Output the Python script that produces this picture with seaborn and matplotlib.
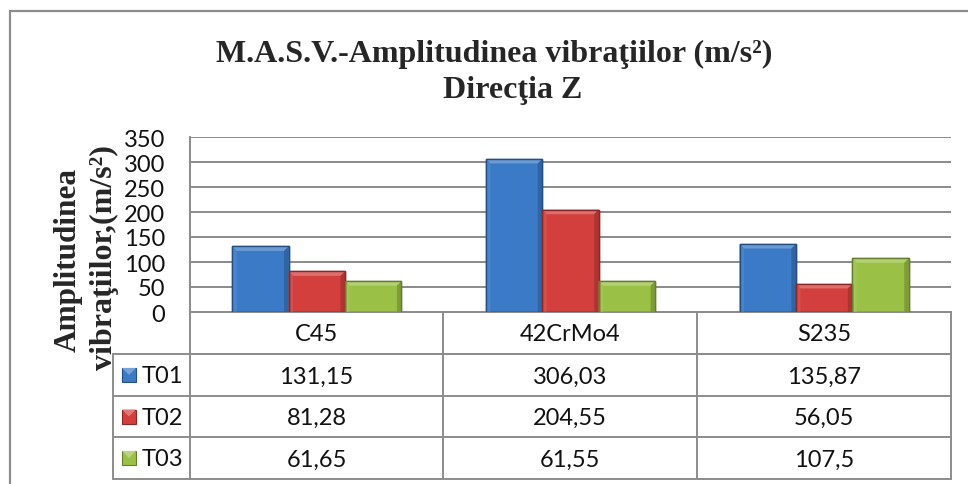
import matplotlib
matplotlib.use("Agg")
import matplotlib.pyplot as plt
import seaborn as sns
import pandas as pd
import numpy as np
from matplotlib.patches import Polygon
import matplotlib.colors as mcolors

# ---- data ----
materials = ["C45", "42CrMo4", "S235"]
tests = ["T01", "T02", "T03"]
t01 = [131.15, 306.03, 135.87]
t02 = [81.28, 204.55, 56.05]
t03 = [61.65, 61.55, 107.5]
table_text = {
    "T01": ["131,15", "306,03", "135,87"],
    "T02": ["81,28", "204,55", "56,05"],
    "T03": ["61,65", "61,55", "107,5"],
}
yticks = [0, 50, 100, 150, 200, 250, 300, 350]
title1 = "M.A.S.V.-Amplitudinea vibraţiilor (m/s²)"
title2 = "Direcţia Z"
ylabel1 = "Amplitudinea"
ylabel2 = "vibraţiilor,(m/s²)"

colors = ["#3A7AC6", "#D23F3C", "#9AC046"]

df = pd.DataFrame({
    "material": materials * 3,
    "test": [t for t in tests for _ in materials],
    "value": t01 + t02 + t03,
})

sns.set_style("white")
plt.rcParams["font.family"] = ["Lato", "DejaVu Sans"]

W, H = 968, 485
fig = plt.figure(figsize=(W / 100, H / 100), dpi=100)
fig.patch.set_facecolor("white")

# plot area in pixels
L, R, T, B = 190, 951, 138, 313
ax = fig.add_axes([L / W, 1 - B / H, (R - L) / W, (B - T) / H])

sns.barplot(data=df, x="material", y="value", hue="test", order=materials,
            hue_order=tests, palette=colors, width=0.667, ax=ax,
            legend=False, saturation=1, linewidth=0, zorder=3)

ax.set_xlim(-0.5, 2.5)
ax.set_ylim(0, 350)
ax.set_yticks(yticks)
ax.set_yticklabels([str(v) for v in yticks], fontsize=17, fontfamily="Lato",
                   color="#111111")
ax.tick_params(axis="y", length=0, pad=18)
ax.set_xticks([])
ax.set_xlabel("")
ax.set_ylabel("")
grid_c = "#8A8A8A"
for v in yticks[1:]:
    ax.axhline(v, color=grid_c, lw=1.4, zorder=1)
for s in ["top", "right"]:
    ax.spines[s].set_visible(False)
ax.spines["left"].set_color(grid_c)
ax.spines["left"].set_linewidth(1.4)
ax.spines["bottom"].set_color(grid_c)
ax.spines["bottom"].set_linewidth(1.4)
ax.set_facecolor("none")

# bevel effect on bars
fig.canvas.draw()
p0 = ax.transData.transform((0, 0))
p1 = ax.transData.transform((1, 1))
pxx = p1[0] - p0[0]
pxy = p1[1] - p0[1]
d = 4.5
dx, dy = d / pxx, d / pxy


def shade(c, f):
    r, g, b = mcolors.to_rgb(c)
    if f > 0:
        return (r + (1 - r) * f, g + (1 - g) * f, b + (1 - b) * f)
    return (r * (1 + f), g * (1 + f), b * (1 + f))


for cont, col in zip(ax.containers, colors):
    for bar in cont:
        x, y = bar.get_x(), bar.get_y()
        w, h = bar.get_width(), bar.get_height()
        edge = shade(col, -0.35)
        bar.set_edgecolor(edge)
        bar.set_linewidth(1.0)
        ddy = min(dy, h / 2)
        top = Polygon([(x, y + h), (x + w, y + h), (x + w - dx, y + h - ddy), (x + dx, y + h - ddy)],
                      closed=True, facecolor=shade(col, 0.25), edgecolor="none", zorder=4)
        left = Polygon([(x, y), (x, y + h), (x + dx, y + h - ddy), (x + dx, y)],
                       closed=True, facecolor=shade(col, 0.08), edgecolor="none", zorder=4)
        right = Polygon([(x + w, y), (x + w, y + h), (x + w - dx, y + h - ddy), (x + w - dx, y)],
                        closed=True, facecolor=shade(col, -0.18), edgecolor="none", zorder=4)
        ax.add_patch(top)
        ax.add_patch(left)
        ax.add_patch(right)
        ax.add_patch(plt.Rectangle((x, y), w, h, fill=False, edgecolor=edge, lw=1.0, zorder=5))

# ---- overlay axes in pixel coords: table, titles, border ----
ov2 = fig.add_axes([0, 0, 1, 1], zorder=10)
ov2.set_xlim(0, W)
ov2.set_ylim(H, 0)
ov2.axis("off")
ov2.patch.set_alpha(0)

border_c = "#8C8C8C"
ov2.plot([10, W + 5], [12, 12], color=border_c, lw=1.6)
ov2.plot([10, 10], [12, H + 5], color=border_c, lw=1.6)

# table
cols = [L, 443, 697, R]
rows = [B, 355, 397, 438, 480]
tc = "#8C8C8C"
tlw = 1.4
ov2.plot([L, R], [rows[1], rows[1]], color=tc, lw=tlw)
for xc in cols:
    ov2.plot([xc, xc], [rows[0], rows[-1]], color=tc, lw=tlw)
leg_l = 113
for yr in rows[1:]:
    ov2.plot([leg_l, R], [yr, yr], color=tc, lw=tlw)
ov2.plot([leg_l, leg_l], [rows[1], rows[-1]], color=tc, lw=tlw)

fs_t = 17
for i, m in enumerate(materials):
    xc = (cols[i] + cols[i + 1]) / 2
    ov2.text(xc, (rows[0] + rows[1]) / 2 + 1, m, ha="center", va="center",
             fontsize=fs_t, fontfamily="Lato", color="#111111")
    for j, t in enumerate(tests):
        ov2.text(xc, (rows[j + 1] + rows[j + 2]) / 2 + 1, table_text[t][i], ha="center",
                 va="center", fontsize=fs_t, fontfamily="Lato", color="#111111")
for j, t in enumerate(tests):
    yc = (rows[j + 1] + rows[j + 2]) / 2
    ov2.add_patch(plt.Rectangle((122, yc - 7), 14, 14, facecolor=colors[j],
                                edgecolor=shade(colors[j], -0.35), lw=0.8))
    ov2.add_patch(Polygon([(122, yc - 7), (136, yc - 7), (129, yc)], closed=True,
                          facecolor=shade(colors[j], 0.3), edgecolor="none"))
    ov2.text(142, yc + 1, t, ha="left", va="center", fontsize=fs_t,
             fontfamily="Lato", color="#111111")

# titles
serif = ["Liberation Serif", "DejaVu Serif"]
ov2.text(494, 62, title1, ha="center", va="baseline", fontsize=23,
         fontweight="bold", fontfamily=serif)
ov2.text(513, 98, title2, ha="center", va="baseline", fontsize=23,
         fontweight="bold", fontfamily=serif)
ov2.text(76, 260, ylabel1, ha="center", va="baseline", rotation=90,
         rotation_mode="anchor", fontsize=22.5, fontweight="bold", fontfamily=serif)
ov2.text(112, 258, ylabel2, ha="center", va="baseline", rotation=90,
         rotation_mode="anchor", fontsize=23, fontweight="bold", fontfamily=serif)

fig.savefig("out.png", dpi=100, facecolor="white")
